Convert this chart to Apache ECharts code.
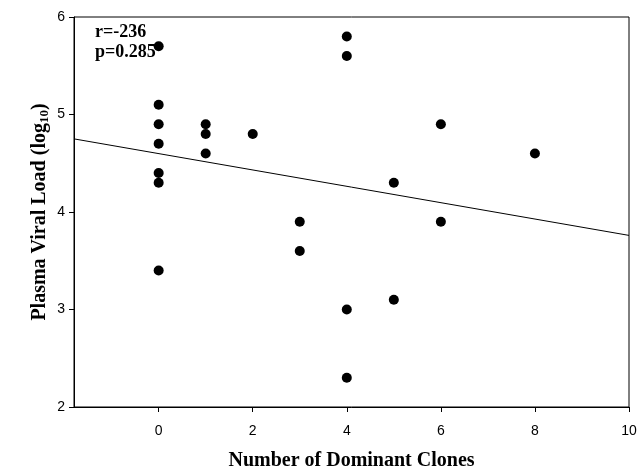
<!DOCTYPE html>
<html>
<head>
<meta charset="utf-8">
<script src="https://cdn.jsdelivr.net/npm/echarts@6/dist/echarts.min.js"></script>
<style>html,body{margin:0;padding:0;background:#fff}#c{width:637px;height:475px}</style>
</head>
<body>
<div id="c"></div>
<script>
// Data
const clones = [0, 0, 0, 0, 0, 0, 0, 1, 1, 1, 2, 3, 3, 4, 4, 4, 4, 5, 5, 6, 6, 8];
const viralLoad = [5.7, 5.1, 4.9, 4.7, 4.4, 4.3, 3.4, 4.9, 4.8, 4.6, 4.8, 3.9, 3.6, 5.8, 5.6, 3.0, 2.3, 4.3, 3.1, 4.9, 3.9, 4.6];
const fitX = [-1.8, 10];
const fitY = [4.75, 3.76];
const xTicks = [0, 2, 4, 6, 8, 10];
const yTicks = [2, 3, 4, 5, 6];
const statsText = ['r=-236', 'p=0.285'];

const points = clones.map((c, i) => [c, viralLoad[i]]);
const fitLine = fitX.map((x, i) => [x, fitY[i]]);

const chart = echarts.init(document.getElementById('c'), null, {renderer: 'canvas'});
const serif = '"Liberation Serif", "Times New Roman", serif';
const sans = '"Liberation Sans", Arial, sans-serif';

chart.setOption({
  animation: false,
  backgroundColor: '#fff',
  grid: {left: 74, right: 8, top: 17, bottom: 68, show: true, borderColor: '#000', borderWidth: 1, containLabel: false, outerBoundsMode: 'none'},
  xAxis: {
    type: 'value', min: -1.8, max: 10,
    axisLine: {show: true, onZero: false, lineStyle: {color: '#000', width: 1}},
    axisTick: {show: true, inside: false, length: 5, lineStyle: {color: '#000'}, customValues: xTicks},
    axisLabel: {color: '#000', fontFamily: sans, fontSize: 14, margin: 17, customValues: xTicks},
    splitLine: {show: false},
    name: 'Number of Dominant Clones', nameLocation: 'middle', nameGap: 44,
    nameTextStyle: {fontFamily: serif, fontWeight: 'bold', fontSize: 20, color: '#000'}
  },
  yAxis: {
    type: 'value', min: 2, max: 6, interval: 1,
    axisLine: {show: true, onZero: false, lineStyle: {color: '#000', width: 1}},
    axisTick: {show: true, inside: false, length: 5, lineStyle: {color: '#000'}},
    axisLabel: {color: '#000', fontFamily: sans, fontSize: 14, margin: 9},
    splitLine: {show: false}
  },
  graphic: [
    {type: 'text', left: 95, top: 23, style: {text: statsText[0], font: 'bold 18px ' + serif, fill: '#000'}},
    {type: 'text', left: 95, top: 43, style: {text: statsText[1], font: 'bold 18px ' + serif, fill: '#000'}},
    {type: 'text', x: 40, y: 212, rotation: Math.PI / 2,
      style: {
        text: '{a|Plasma Viral Load (log}{s|10}{a|)}',
        align: 'center', verticalAlign: 'middle',
        rich: {
          a: {fontFamily: serif, fontWeight: 'bold', fontSize: 20, fill: '#000', color: '#000'},
          s: {fontFamily: serif, fontWeight: 'bold', fontSize: 13, fill: '#000', color: '#000', verticalAlign: 'bottom', padding: [10, 0, 0, 0]}
        }
      }}
  ],
  series: [
    {type: 'scatter', data: points, symbol: 'circle', symbolSize: 10, itemStyle: {color: '#000', opacity: 1}, z: 3},
    {type: 'line', data: fitLine, showSymbol: false, symbol: 'none', lineStyle: {color: '#000', width: 1}, z: 2}
  ]
});
</script>
</body>
</html>
